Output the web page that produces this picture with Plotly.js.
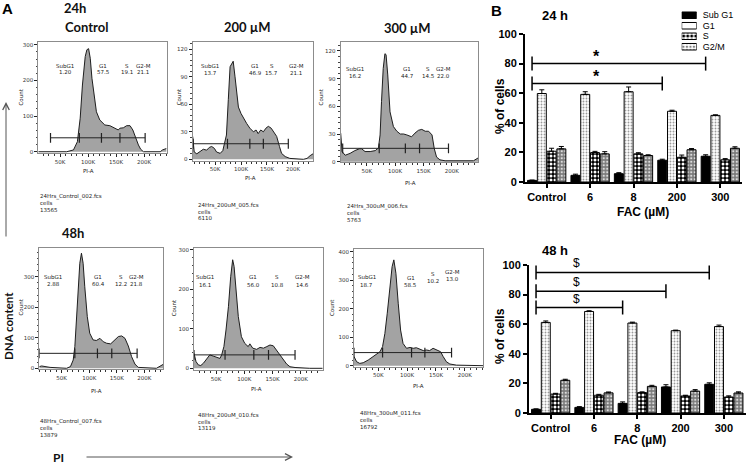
<!DOCTYPE html>
<html>
<head>
<meta charset="utf-8">
<script src="https://cdn.plot.ly/plotly-3.0.1.min.js"></script>
<style>
html,body{margin:0;padding:0;background:#ffffff;}
#chart{width:750px;height:464px;}
</style>
</head>
<body>
<div id="chart"></div>
<script>
// ================= DATA : panel A (PI-A histograms) =================
const h24Ctrl_x = [11200, 62000, 74000, 81000, 86000, 90000, 95000, 98000, 101000, 104000, 107000, 111000, 115000, 121000, 130000, 139000, 148000, 154000, 157000, 163000, 169000, 175000, 180000, 184000, 190000, 194000, 199000, 229000, 233000, 240000];
const h24Ctrl_y = [0, 0, 5, 28, 94, 187, 267, 286, 289, 262, 206, 150, 112, 89, 75, 73, 67, 61, 66, 67, 73, 73, 61, 42, 19, 7, 0, 0, 5, 9];

const h24_200_x = [7100, 10000, 15000, 21000, 27500, 34000, 39000, 43600, 48700, 53000, 60000, 65000, 69000, 72000, 75600, 79000, 83000, 85000, 88500, 92000, 95000, 100000, 104500, 111000, 117000, 124000, 129000, 133000, 138000, 143000, 148000, 152600, 158000, 163000, 168600, 174000, 178000, 185000, 194000, 220000, 227000, 233000, 238500];
const h24_200_y = [25, 8, 6, 8, 11, 10, 13, 14, 12, 8, 6.5, 9.5, 17.5, 26.5, 65, 101, 105, 107, 90, 68, 57, 50, 45, 39, 34, 30, 32, 28, 32, 30, 34, 36, 34, 30, 25, 14, 6.5, 3, 1, 0, 1, 4, 6];

const h24_300_x = [4100, 6500, 12000, 20600, 29000, 37000, 41000, 47000, 56000, 65000, 70600, 73500, 76000, 79000, 82000, 84000, 87000, 91000, 97000, 103000, 109000, 115000, 120600, 129000, 135000, 141000, 147000, 153000, 159000, 165000, 169000, 173000, 179000, 188000, 238000, 244000, 246000];
const h24_300_y = [31, 11, 7, 9, 12, 14, 14, 11, 11, 12, 15, 29, 65, 101, 117, 116, 94, 54, 38, 33, 30, 30, 29, 27, 31, 34, 35, 33, 33, 29, 14, 5, 2, 1, 1, 3, 4];

const h48Ctrl_x = [9500, 13700, 29000, 47000, 59000, 66000, 71000, 74000, 77000, 80000, 83000, 86000, 89000, 92000, 96600, 101000, 107000, 113000, 119600, 125600, 131700, 139000, 147000, 153000, 159000, 165000, 171000, 177000, 183000, 189000, 222000, 228500, 233000, 234500];
const h48Ctrl_y = [5.5, 7.6, 3, 0, 0, 5.5, 27, 71, 158, 267, 344, 377, 344, 267, 169, 115, 93, 91, 98, 87, 82, 80, 93, 104, 106, 98, 73, 38, 14, 3, 0, 5.5, 11, 13];

const h48_200_x = [11000, 14600, 18700, 23000, 27600, 33500, 39000, 45000, 51000, 57000, 60000, 64000, 67700, 72000, 76000, 79500, 82000, 85000, 89500, 95000, 101000, 107000, 110000, 115000, 122000, 128000, 134000, 140000, 145600, 151500, 157000, 163000, 169000, 175000, 181000, 190000, 216000, 239000];
const h48_200_y = [38, 17, 8.5, 7, 12.7, 25, 34, 31, 28, 25, 34, 55, 97, 156, 232, 275, 258, 207, 131, 80, 63, 55, 62, 51, 48, 53, 51, 55, 59, 57, 46, 34, 21, 11, 4, 2, 0, 0];

const h48_300_x = [8000, 12500, 18000, 24000, 32700, 41000, 47000, 53000, 57500, 61500, 65600, 70000, 74000, 77000, 80600, 84600, 88700, 93000, 99000, 105000, 110600, 116000, 122000, 128000, 133700, 139000, 145000, 150000, 154000, 158000, 162500, 168000, 174000, 185600, 232000];
const h48_300_y = [32, 14, 8, 10.5, 20, 32, 41, 49, 67, 113, 184, 277, 347, 371, 324, 219, 125, 78, 61, 64, 61, 63, 57, 53, 55, 53, 61, 57, 55, 49, 32, 14, 6, 2, 0];

// gate markers (PI-A positions) and gate level (count)
const gate24Ctrl = [33000, 84500, 124000, 157000, 202000]; const gateLevel24Ctrl = 39;
const gate24_200 = [8000, 74000, 117000, 143000, 191000];  const gateLevel24_200 = 17;
const gate24_300 = [7600, 72000, 118000, 143000, 194000];  const gateLevel24_300 = 14.5;
const gate48Ctrl = [9500, 74000, 115000, 141000, 187000];  const gateLevel48Ctrl = 49;
const gate48_200 = [11000, 66000, 117000, 143000, 190000]; const gateLevel48_200 = 34;
const gate48_300 = [8000, 57500, 107700, 130800, 177000];  const gateLevel48_300 = 46;

const phaseNames = ['SubG1', 'G1', 'S', 'G2-M'];
const pct24Ctrl = ['1.20', '57.5', '19.1', '21.1'];
const pct24_200 = ['13.7', '46.9', '15.7', '21.1'];
const pct24_300 = ['16.2', '44.7', '14.5', '22.0'];
const pct48Ctrl = ['2.88', '60.4', '12.2', '21.8'];
const pct48_200 = ['16.1', '56.0', '10.8', '14.6'];
const pct48_300 = ['18.7', '58.5', '10.2', '13.0'];

const fileNames = ['24Hrs_Control_002.fcs', '24Hrs_200uM_005.fcs', '24Hrs_300uM_006.fcs', '48Hrs_Control_007.fcs', '48Hrs_200uM_010.fcs', '48Hrs_300uM_011.fcs'];
const cellCounts = ['13565', '6110', '5763', '13879', '13119', '16792'];
const columnTitles = ['Control', '200 µM', '300 µM'];
const timeTitles = ['24h', '48h'];

const piTickVals = [50000, 100000, 150000, 200000];
const piTickText = ['50K', '100K', '150K', '200K'];
const countTicks24Ctrl = [0, 100, 200, 300];
const countTicks24_200 = [0, 30, 60, 90, 120];
const countTicks24_300 = [0, 30, 60, 90, 120];
const countTicks48Ctrl = [0, 100, 200, 300];
const countTicks48_200 = [0, 100, 200, 300];
const countTicks48_300 = [0, 100, 200, 300, 400];

// ================= DATA : panel B (% of cells) =================
const categories = ['Control', '6', '8', '200', '300'];
const seriesNames = ['Sub G1', 'G1', 'S', 'G2/M'];

const subG1_24h = [1.1, 4.5, 5.6, 14.7, 17.4];
const g1_24h    = [59.8, 59.2, 61.0, 47.8, 45.0];
const s_24h     = [20.8, 19.9, 19.0, 16.7, 15.0];
const g2m_24h   = [22.4, 19.0, 17.9, 21.8, 22.8];
const subG1_24hErr = [0.2, 0.8, 0.7, 0.7, 1.0];
const g1_24hErr    = [2.5, 1.8, 3.2, 0.7, 0.4];
const s_24hErr     = [2.0, 0.8, 0.8, 1.5, 0.8];
const g2m_24hErr   = [1.6, 1.5, 0.5, 0.8, 1.0];

const subG1_48h = [2.5, 3.8, 6.5, 17.6, 19.4];
const g1_48h    = [61.2, 68.6, 60.8, 55.6, 58.4];
const s_48h     = [12.8, 12.0, 13.8, 11.5, 10.8];
const g2m_48h   = [22.1, 13.6, 18.0, 14.8, 13.5];
const subG1_48hErr = [0.3, 0.5, 1.0, 1.5, 1.0];
const g1_48hErr    = [1.0, 0.5, 0.6, 0.4, 1.0];
const s_48hErr     = [0.5, 0.6, 0.5, 0.5, 0.8];
const g2m_48hErr   = [0.7, 0.6, 0.7, 1.0, 0.8];

// significance brackets: from Control to the listed group
const sig24To = ['300', '200']; const sig24Level = [80, 66.5]; const sig24Mark = ['*', '*'];
const sig48To = ['300', '200', '8']; const sig48Level = [95, 82.2, 71.2]; const sig48Mark = ['$', '$', '$'];

// ================= LAYOUT / STYLE =================
const W = 750, H = 464;
const PX = v => v / W;
const PY = v => 1 - v / H;

const histFont = 'DejaVu Sans, Arial, sans-serif';
const barFont = 'Liberation Sans, Arial, sans-serif';
const titleFont = 'Lato, Open Sans, sans-serif';

const layout = {
  width: W, height: H,
  margin: {l: 0, r: 0, t: 0, b: 0},
  paper_bgcolor: '#ffffff', plot_bgcolor: 'rgba(0,0,0,0)',
  showlegend: false,
  barmode: 'group', bargap: 0.1, bargroupgap: 0.08,
  font: {family: barFont, color: '#000'},
  annotations: [], shapes: []
};
const data = [];
const ann = layout.annotations;
function T(text, x, y, size, opts) {
  const o = Object.assign({text: text, xref: 'paper', yref: 'paper', x: PX(x), y: PY(y),
    xanchor: 'center', yanchor: 'middle', showarrow: false,
    font: {family: histFont, size: size, color: '#222'}}, opts || {});
  ann.push(o);
}

const hists = [
  {x: h24Ctrl_x, y: h24Ctrl_y, gx: gate24Ctrl, gy: gateLevel24Ctrl, yt: countTicks24Ctrl, pct: pct24Ctrl},
  {x: h24_200_x, y: h24_200_y, gx: gate24_200, gy: gateLevel24_200, yt: countTicks24_200, pct: pct24_200},
  {x: h24_300_x, y: h24_300_y, gx: gate24_300, gy: gateLevel24_300, yt: countTicks24_300, pct: pct24_300},
  {x: h48Ctrl_x, y: h48Ctrl_y, gx: gate48Ctrl, gy: gateLevel48Ctrl, yt: countTicks48Ctrl, pct: pct48Ctrl},
  {x: h48_200_x, y: h48_200_y, gx: gate48_200, gy: gateLevel48_200, yt: countTicks48_200, pct: pct48_200},
  {x: h48_300_x, y: h48_300_y, gx: gate48_300, gy: gateLevel48_300, yt: countTicks48_300, pct: pct48_300}
];
const histPlace = [
  {l: 38.3, t: 41.7, r: 166.7, b: 153,   xr: [11200, 240500], yr: [-3.6, 308.5], ym: 20,
   lx: [65, 103.3, 126.7, 143.3], ly: [65.5, 65.5, 65.5, 65.5], vy: [72, 72, 72, 72],
   cnt: [20.5, 97], pi: [88.3, 171], file: [38.3, 196.7]},
  {l: 192.7, t: 41.7, r: 313, b: 160.7,  xr: [7100, 238500], yr: [-1.5, 128.3], ym: 6,
   lx: [210, 255, 271.7, 296], ly: [66.3, 66.3, 66.3, 66.3], vy: [72.8, 72.8, 72.8, 72.8],
   cnt: [179.3, 97], pi: [250, 178.3], file: [196.3, 205]},
  {l: 340.7, t: 41.7, r: 478, b: 162.3,  xr: [4100, 246000], yr: [-0.65, 130], ym: 6,
   lx: [355, 407.3, 428.3, 443.8], ly: [69.5, 69.5, 69.5, 69.5], vy: [76, 76, 76, 76],
   cnt: [320.7, 96.7], pi: [410, 183.3], file: [345, 206.7]},
  {l: 39.3, t: 248.3, r: 163.3, b: 369.3, xr: [9500, 234500], yr: [-3.3, 393], ym: 20,
   lx: [53.3, 98.3, 120.7, 136.7], ly: [277, 277, 277, 277], vy: [283.5, 283.5, 283.5, 283.5],
   cnt: [20.5, 307], pi: [96.7, 390.7], file: [38.3, 421.7]},
  {l: 194, t: 248.3, r: 322.7, b: 370,   xr: [11000, 239000], yr: [-4.3, 304], ym: 20,
   lx: [205, 253.3, 277.3, 302.7], ly: [277.3, 277.3, 277.3, 277.3], vy: [284.5, 284.5, 284.5, 284.5],
   cnt: [174, 308.3], pi: [256.7, 389.3], file: [196, 415]},
  {l: 354, t: 249.3, r: 483.3, b: 366.7, xr: [8000, 232000], yr: [-3.5, 408], ym: 20,
   lx: [366.7, 410.7, 433.3, 452.7], ly: [277.3, 278.3, 274.3, 272.3], vy: [284.5, 285, 281, 278.8],
   cnt: [332.7, 307.3], pi: [418.3, 386], file: [358.3, 413.3]}
];

hists.forEach((h, i) => {
  const P = histPlace[i];
  const n = i + 1;
  const sfx = n === 1 ? '' : String(n);
  data.push({type: 'scatter', mode: 'lines', x: h.x, y: h.y, xaxis: 'x' + sfx, yaxis: 'y' + sfx,
    fill: 'tozeroy', fillcolor: '#a3a3a3', line: {color: '#1e1e1e', width: 1}, hoverinfo: 'skip'});
  data.push({type: 'scatter', mode: 'lines+markers', x: h.gx, y: h.gx.map(() => h.gy),
    xaxis: 'x' + sfx, yaxis: 'y' + sfx, line: {color: '#222', width: 1},
    marker: {symbol: 'line-ns-open', size: 7, color: '#222', line: {color: '#222', width: 1.2}}, hoverinfo: 'skip'});
  layout['xaxis' + sfx] = {
    domain: [PX(P.l), PX(P.r)], range: P.xr, anchor: 'y' + sfx,
    showline: true, linecolor: '#8c8c8c', linewidth: 1, mirror: true,
    ticks: 'outside', ticklen: 3, tickwidth: 1, tickcolor: '#222',
    tickvals: piTickVals, ticktext: piTickText,
    tickfont: {family: histFont, size: 5.5, color: '#333'},
    minor: {dtick: 10000, tick0: 0, ticks: 'outside', ticklen: 2, tickcolor: '#333', tickwidth: 1},
    showgrid: false, zeroline: false, fixedrange: true
  };
  layout['yaxis' + sfx] = {
    domain: [PY(P.b), PY(P.t)], range: P.yr, anchor: 'x' + sfx,
    showline: true, linecolor: '#8c8c8c', linewidth: 1, mirror: true,
    ticks: 'outside', ticklen: 3, tickwidth: 1, tickcolor: '#222',
    tickvals: h.yt, tickfont: {family: histFont, size: 5.5, color: '#333'},
    minor: {dtick: P.ym, tick0: 0, ticks: 'outside', ticklen: 1.5, tickcolor: '#444', tickwidth: 1},
    showgrid: false, zeroline: false, fixedrange: true
  };
  phaseNames.forEach((nm, k) => {
    T(nm, P.lx[k], P.ly[k], 5.5);
    T(h.pct[k], P.lx[k], P.vy[k], 5.5);
  });
  T('Count', P.cnt[0], P.cnt[1], 5.5, {textangle: -90});
  T('PI-A', P.pi[0], P.pi[1], 5.5);
  T(fileNames[i], P.file[0], P.file[1], 5.5, {xanchor: 'left'});
  T('cells', P.file[0], P.file[1] + 6.7, 5.5, {xanchor: 'left'});
  T(cellCounts[i], P.file[0], P.file[1] + 13.4, 5.5, {xanchor: 'left'});
});

// panel A titles and arrows
const boldTitle = {family: titleFont, size: 13, color: '#111', weight: 'bold'};
T('A', 7.5, 9, 15, {font: {family: barFont, size: 15, color: '#000', weight: 'bold'}});
T(timeTitles[0], 75, 7.5, 13, {font: boldTitle});
T(timeTitles[1], 72.5, 233.3, 13, {font: boldTitle});
T(columnTitles[0], 86, 26.7, 13, {font: boldTitle});
T(columnTitles[1], 247.5, 27, 13, {font: boldTitle});
T(columnTitles[2], 407.5, 28.3, 13, {font: boldTitle});
T('DNA content', 8, 326, 11.5, {textangle: -90, font: {family: titleFont, size: 11.5, color: '#111', weight: 'bold'}});
T('PI', 58, 457, 12, {font: {family: titleFont, size: 12, color: '#111', weight: 'bold'}});
ann.push({text: '', xref: 'paper', yref: 'paper', x: PX(6), y: PY(102), ax: 0, ay: 136,
  showarrow: true, arrowhead: 5, arrowsize: 1.3, arrowwidth: 1, arrowcolor: '#555'});
ann.push({text: '', xref: 'paper', yref: 'paper', x: PX(293), y: PY(457), ax: -208, ay: 0,
  showarrow: true, arrowhead: 5, arrowsize: 1.3, arrowwidth: 1, arrowcolor: '#555'});

// ================= PANEL B =================
const seriesStyles = [
  {color: '#000000', pattern: {shape: ''}},
  {color: '#ffffff', pattern: {shape: '.', fgcolor: '#9a9a9a', bgcolor: '#ffffff', size: 3, solidity: 0.3, fillmode: 'replace'}},
  {color: '#000000', pattern: {shape: '.', fgcolor: '#ffffff', bgcolor: '#000000', size: 4, solidity: 0.45, fillmode: 'replace'}},
  {color: '#808080', pattern: {shape: '.', fgcolor: '#dcdcdc', bgcolor: '#7a7a7a', size: 3.5, solidity: 0.35, fillmode: 'replace'}}
];
const catIdx = categories.map((c, i) => i);
const panels = [
  {sfx: '7', vals: [subG1_24h, g1_24h, s_24h, g2m_24h], errs: [subG1_24hErr, g1_24hErr, s_24hErr, g2m_24hErr],
   sigTo: sig24To, sigLv: sig24Level, sigMk: sig24Mark, markX: 1.15, markSize: 16, markShift: -3,
   dom: {l: 525, r: 742, t: 34, b: 182}},
  {sfx: '8', vals: [subG1_48h, g1_48h, s_48h, g2m_48h], errs: [subG1_48hErr, g1_48hErr, s_48hErr, g2m_48hErr],
   sigTo: sig48To, sigLv: sig48Level, sigMk: sig48Mark, markX: 0.6, markSize: 12, markShift: 0,
   dom: {l: 529, r: 745.5, t: 265, b: 413}}
];
const subOff = -(1 - layout.bargap) * 3 / 8;
const boldAxisFont = {family: barFont, size: 11, color: '#000', weight: 'bold'};
panels.forEach(pn => {
  pn.vals.forEach((v, s) => {
    data.push({type: 'bar', x: catIdx, y: v, name: seriesNames[s], xaxis: 'x' + pn.sfx, yaxis: 'y' + pn.sfx,
      marker: {color: seriesStyles[s].color, line: {color: '#000', width: 1}, pattern: seriesStyles[s].pattern},
      error_y: {type: 'data', symmetric: false, array: pn.errs[s], arrayminus: pn.errs[s].map(() => 0),
        color: '#000', thickness: 1, width: 2.5},
      hoverinfo: 'skip'});
  });
  pn.sigTo.forEach((to, k) => {
    const j = categories.indexOf(to);
    data.push({type: 'scatter', mode: 'lines+markers', x: [subOff, j + subOff], y: [pn.sigLv[k], pn.sigLv[k]],
      xaxis: 'x' + pn.sfx, yaxis: 'y' + pn.sfx, line: {color: '#000', width: 1.5},
      marker: {symbol: 'line-ns-open', size: 10, color: '#000', line: {color: '#000', width: 1.5}}, hoverinfo: 'skip'});
    ann.push({text: pn.sigMk[k], xref: 'x' + pn.sfx, yref: 'y' + pn.sfx, x: pn.markX, y: pn.sigLv[k],
      yanchor: 'bottom', yshift: pn.markShift, showarrow: false,
      font: {family: barFont, size: pn.markSize, color: '#000', weight: pn.sigMk[k] === '*' ? 'bold' : 'normal'}});
  });
  layout['xaxis' + pn.sfx] = {
    domain: [PX(pn.dom.l), PX(pn.dom.r)], range: [-0.5, 4.5], anchor: 'y' + pn.sfx,
    tickvals: catIdx, ticktext: categories, tickfont: boldAxisFont,
    showline: true, linecolor: '#000', linewidth: 2, ticks: 'outside', ticklen: 4, tickwidth: 2, tickcolor: '#000',
    showgrid: false, zeroline: false, fixedrange: true
  };
  layout['yaxis' + pn.sfx] = {
    domain: [PY(pn.dom.b), PY(pn.dom.t)], range: [0, 100], anchor: 'x' + pn.sfx, dtick: 20,
    tickfont: boldAxisFont, showline: true, linecolor: '#000', linewidth: 2,
    ticks: 'outside', ticklen: 4, tickwidth: 2, tickcolor: '#000',
    showgrid: false, zeroline: false, fixedrange: true
  };
});

// legend swatches (tiny subplot) for panel B
data.push({type: 'bar', orientation: 'h', x: seriesNames.map(() => 1), y: seriesNames, width: 0.62,
  xaxis: 'x9', yaxis: 'y9', hoverinfo: 'skip',
  marker: {color: seriesStyles.map(s => s.color), line: {color: '#000', width: 1},
    pattern: {
      shape: seriesStyles.map(s => s.pattern.shape),
      fgcolor: seriesStyles.map(s => s.pattern.fgcolor || '#000'),
      bgcolor: seriesStyles.map(s => s.pattern.bgcolor || s.color),
      size: seriesStyles.map(s => s.pattern.size || 4),
      solidity: seriesStyles.map(s => s.pattern.solidity || 0.3),
      fillmode: 'replace'}}});
layout.xaxis9 = {domain: [PX(681.7), PX(696.7)], range: [0, 1], anchor: 'y9', visible: false, fixedrange: true};
layout.yaxis9 = {domain: [PY(52), PY(10)], anchor: 'x9', type: 'category', categoryorder: 'array',
  categoryarray: seriesNames, tickmode: 'array', tickvals: seriesNames, ticktext: seriesNames,
  autorange: 'reversed', side: 'right', showline: false, showgrid: false,
  zeroline: false, ticks: '', ticklabelstandoff: 5, tickfont: {family: barFont, size: 9, color: '#000'}, fixedrange: true};

// panel B texts
const bFont = s => ({family: barFont, size: s, color: '#000', weight: 'bold'});
T('B', 497, 10, 15, {font: bFont(15)});
T('24 h', 555, 16, 13, {font: bFont(13)});
T('48 h', 555, 250, 13, {font: bFont(13)});
T('% of cells', 500, 106, 12, {textangle: -90, font: bFont(12)});
T('% of cells', 500, 336, 12, {textangle: -90, font: bFont(12)});
T('FAC (µM)', 643, 212, 12, {font: bFont(12)});
T('FAC (µM)', 640, 440, 12, {font: bFont(12)});

Plotly.newPlot('chart', data, layout, {displayModeBar: false, staticPlot: true});
</script>
</body>
</html>
